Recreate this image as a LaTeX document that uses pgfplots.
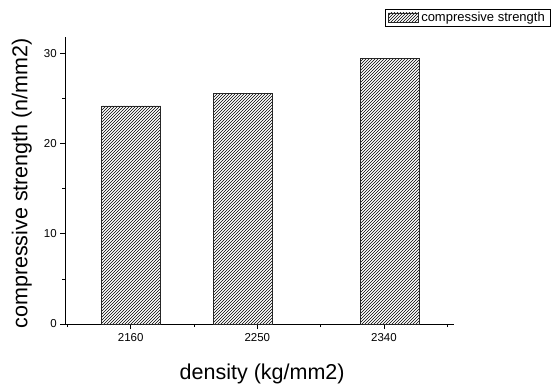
\documentclass[border=0pt]{standalone}
\usepackage{pgfplots}
\pgfplotsset{compat=1.18}
\usepackage{fontspec}
\setmainfont{Liberation Sans}
\usetikzlibrary{patterns}
\begin{document}
\begin{tikzpicture}
\useasboundingbox (-65.3pt,-59pt) rectangle (490.7pt,324pt);
\begin{axis}[
  at={(0pt,0pt)}, anchor=origin,
  scale only axis, width=389pt, height=287pt,
  xmin=2113.5, xmax=2390, ymin=0, ymax=31.85,
  axis lines*=left, axis line style={-, line width=0.9pt},
  tick align=outside, tick style={black, line width=0.8pt},
  major tick length=5pt, minor tick length=3pt,
  xtick={2160,2250,2340}, minor xtick={2115,2205,2295,2385},
  ytick={0,10,20,30}, minor ytick={5,15,25},
  /pgf/number format/1000 sep={},
  /pgf/number format/assume math mode=true,
  tick label style={font=\fontsize{11.5}{13}\selectfont},
  xticklabel style={yshift=-1pt},
  xlabel={density (kg/mm2)},
  ylabel={compressive strength (n/mm2)},
  label style={font=\fontsize{21.5}{24}\selectfont},
  xlabel style={at={(axis description cs:0.506,-0.195)}, anchor=base},
  ylabel style={at={(axis description cs:-0.112,0.49)}, anchor=center, rotate=0},
  legend style={at={(axis description cs:0.823,1.0976)}, anchor=north west,
    draw=black, line width=0.6pt, inner xsep=3pt, inner ysep=1pt, outer sep=0pt,
    font=\fontsize{13}{15}\selectfont, cells={anchor=west},
    legend cell align=left},
  legend image code/.code={\draw[#1] (0pt,-4.5pt) rectangle (30pt,4.5pt);},
]
\addplot[ybar, bar width=42, draw=black!85, line width=0.8pt,
  pattern=north east lines, pattern color=black]
  coordinates {(2160,24.2) (2240,25.6) (2344,29.5)};
\addlegendentry{compressive strength}
\end{axis}
\end{tikzpicture}
\end{document}
